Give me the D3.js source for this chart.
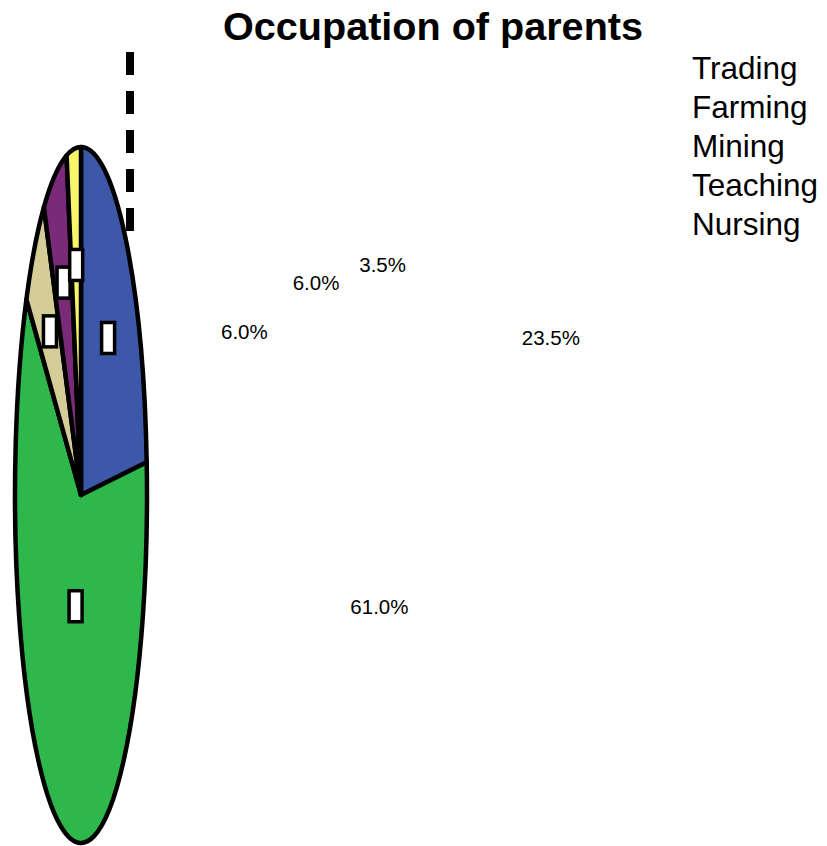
<!DOCTYPE html>
<html><head><meta charset="utf-8">
<script src="https://cdn.jsdelivr.net/npm/d3@7"></script>
<style>html,body{margin:0;padding:0;background:#fff;}svg{display:block;}</style>
</head><body>
<script>
// Data
const categories = ["Trading", "Farming", "Mining", "Teaching", "Nursing"];
const values = [23.5, 61.0, 6.0, 6.0, 3.5];
const colors = ["#3d58a9", "#2eb84b", "#d4cd97", "#7b2a7a", "#f8f56b"];
const labelTexts = ["23.5%", "61.0%", "6.0%", "6.0%", "3.5%"];

// Layout
const W = 827, H = 846;
const cx = 81, cy = 495, rx = 66, ry = 348;
const labelCx = 408;
const labelRadiusFrac = [0.61, 0.33, 0.665, 0.665, 0.665];

const svg = d3.select("body").append("svg").attr("width", W).attr("height", H);

const pie = d3.pie().sort(null).value(d => d)(values);
const arc = d3.arc().innerRadius(0).outerRadius(ry);
const k = rx / ry;

const g = svg.append("g").attr("transform", `translate(${cx},${cy}) scale(${k},1)`);
g.selectAll("path").data(pie).join("path")
  .attr("d", arc)
  .attr("fill", (d, i) => colors[i])
  .attr("stroke", "#000")
  .attr("stroke-width", 4.5)
  .attr("stroke-linejoin", "round")
  .attr("vector-effect", "non-scaling-stroke");

// label positions
pie.forEach((d, i) => {
  const a = (d.startAngle + d.endAngle) / 2;
  const r = ry * labelRadiusFrac[i];
  const dx = r * Math.sin(a), dy = -r * Math.cos(a);
  svg.append("rect")
    .attr("x", cx + dx * k - 6.5).attr("y", cy + dy - 15.5)
    .attr("width", 13).attr("height", 31)
    .attr("fill", "#fff").attr("stroke", "#000").attr("stroke-width", 3.5);
  svg.append("text")
    .attr("x", labelCx + dx).attr("y", cy + dy)
    .attr("text-anchor", "middle").attr("dominant-baseline", "central")
    .attr("font-family", "Liberation Sans, Arial, sans-serif")
    .attr("font-size", 20.5).attr("fill", "#000")
    .text(labelTexts[i]);
});

// dashed line
svg.append("line")
  .attr("x1", 130).attr("x2", 130).attr("y1", 52).attr("y2", 233)
  .attr("stroke", "#000").attr("stroke-width", 8)
  .attr("stroke-dasharray", "23,16");

// title
svg.append("text")
  .attr("x", 433).attr("y", 40).attr("text-anchor", "middle")
  .attr("font-family", "Liberation Sans, Arial, sans-serif")
  .attr("font-weight", "bold").attr("font-size", 39.6)
  .text("Occupation of parents");

// legend (text only)
svg.append("g").selectAll("text").data(categories).join("text")
  .attr("x", 692).attr("y", (d, i) => 79 + i * 39)
  .attr("font-family", "Liberation Sans, Arial, sans-serif")
  .attr("font-size", 31.5)
  .text(d => d);
</script>
</body></html>
